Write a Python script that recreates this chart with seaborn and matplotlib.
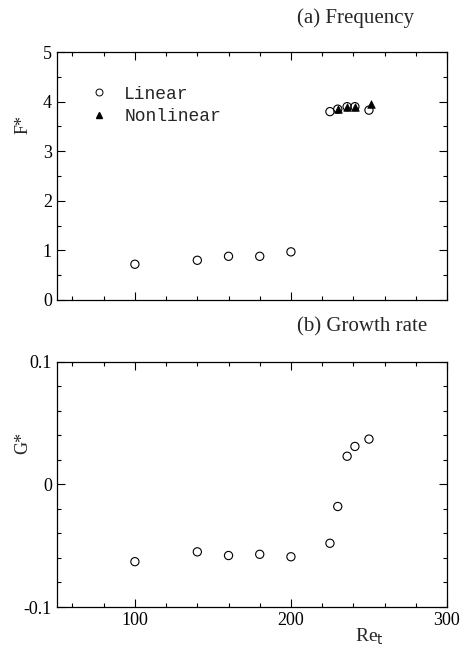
import numpy as np
import pandas as pd
import matplotlib
matplotlib.use("Agg")
import matplotlib.pyplot as plt
import seaborn as sns
from matplotlib.ticker import MultipleLocator, FixedLocator
from matplotlib.lines import Line2D

# Data
re_lin = [100, 140, 160, 180, 200, 225, 230, 236, 241, 250]
f_lin = [0.72, 0.80, 0.88, 0.88, 0.97, 3.80, 3.85, 3.90, 3.90, 3.83]
g_lin = [-0.063, -0.055, -0.058, -0.057, -0.059, -0.048, -0.018, 0.023, 0.031, 0.037]
re_nl = [230, 236, 241, 251]
f_nl = [3.85, 3.90, 3.90, 3.95]

sns.set_theme(style="white")
plt.rcParams['font.family'] = ['Liberation Serif', 'DejaVu Serif']

df_lin = pd.DataFrame({"Re": re_lin, "F": f_lin, "G": g_lin})
df_nl = pd.DataFrame({"Re": re_nl, "F": f_nl})

fig = plt.figure(figsize=(4.74, 6.52), dpi=100)
ax1 = fig.add_axes([0.120, 0.540, 0.823, 0.380])
ax2 = fig.add_axes([0.120, 0.069, 0.823, 0.376])

# Top panel
sns.scatterplot(data=df_lin.iloc[:5], x="Re", y="F", ax=ax1, marker="o", s=35,
                facecolor="none", edgecolor="black", linewidth=0.8, legend=False)
sns.scatterplot(data=df_nl, x="Re", y="F", ax=ax1, marker="^", s=30,
                color="black", edgecolor="black", linewidth=0.5, legend=False, zorder=3)
sns.scatterplot(data=df_lin.iloc[5:], x="Re", y="F", ax=ax1, marker="o", s=35,
                facecolor="none", edgecolor="black", linewidth=0.8, legend=False, zorder=4)

# Bottom panel
sns.scatterplot(data=df_lin, x="Re", y="G", ax=ax2, marker="o", s=35,
                facecolor="none", edgecolor="black", linewidth=0.8, legend=False)

for ax in (ax1, ax2):
    ax.set_xlim(50, 300)
    ax.xaxis.set_major_locator(FixedLocator([100, 200, 300]))
    ax.xaxis.set_minor_locator(MultipleLocator(20))
    ax.tick_params(axis="both", which="both", direction="in", top=True, right=True,
                   bottom=True, left=True, colors="black", labelsize=13)
    ax.tick_params(which="major", length=6, width=0.8)
    ax.tick_params(which="minor", length=3, width=0.8)
    for sp in ax.spines.values():
        sp.set_color("black")
        sp.set_linewidth(0.9)
    ax.set_xlabel("")

ax1.set_ylim(0, 5)
ax1.yaxis.set_major_locator(MultipleLocator(1))
ax1.yaxis.set_minor_locator(MultipleLocator(0.5))
ax1.set_xticklabels([])
ax1.set_ylabel("F*", fontsize=13)
ax1.yaxis.set_label_coords(-0.065, 0.71)
ax1.set_title("(a) Frequency", loc="right", fontsize=15, pad=21, x=0.915)

ax2.set_ylim(-0.1, 0.1)
ax2.yaxis.set_major_locator(FixedLocator([-0.1, 0, 0.1]))
ax2.yaxis.set_minor_locator(MultipleLocator(0.02))
ax2.set_yticklabels(["-0.1", "0", "0.1"])
ax2.set_ylabel("G*", fontsize=13)
ax2.yaxis.set_label_coords(-0.065, 0.67)
ax2.set_title("(b) Growth rate", loc="right", fontsize=15, pad=22, x=0.95)
ax2.set_xlabel("Re$_\\mathrm{t}$", fontsize=14, labelpad=0)
ax2.xaxis.set_label_coords(0.80, -0.08)

handles = [
    Line2D([], [], marker="o", linestyle="none", markerfacecolor="none",
           markeredgecolor="black", markersize=5, markeredgewidth=0.7),
    Line2D([], [], marker="^", linestyle="none", color="black", markersize=4),
]
ax1.legend(handles, ["Linear", "Nonlinear"], loc="upper left",
           bbox_to_anchor=(0.02, 0.93), frameon=False, handletextpad=0.4,
           labelspacing=0.3, prop={"family": "Liberation Mono", "size": 13})

fig.savefig("out.png", dpi=100)
